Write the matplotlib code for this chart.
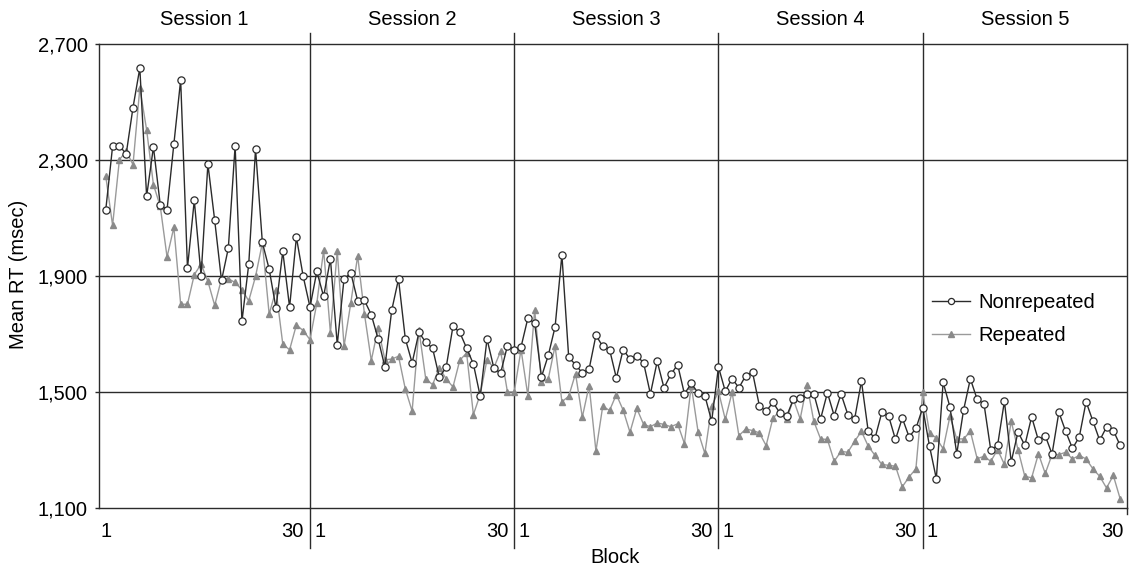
import numpy as np
import matplotlib
matplotlib.use("Agg")
import matplotlib.pyplot as plt

plt.rcParams['font.family'] = ['Liberation Sans', 'DejaVu Sans']

# mean RT per block, 5 sessions x 30 blocks
nonrepeated = [
    2128, 2346, 2348, 2320, 2480, 2616, 2174, 2344, 2145, 2128, 2354, 2575, 1927, 2160, 1901,
    2285, 2091, 1884, 1995, 2348, 1743, 1940, 2337, 2015, 1923, 1789, 1984, 1792, 2033, 1898,
    1792, 1915, 1829, 1958, 1663, 1890, 1909, 1814, 1815, 1766, 1683, 1586, 1781, 1889, 1683,
    1600, 1705, 1671, 1651, 1550, 1585, 1726, 1705, 1651, 1596, 1485, 1682, 1583, 1565, 1659,
    1646, 1655, 1754, 1737, 1552, 1626, 1724, 1972, 1619, 1594, 1565, 1579, 1695, 1657, 1646,
    1548, 1646, 1613, 1625, 1600, 1493, 1605, 1514, 1560, 1594, 1493, 1529, 1497, 1487, 1399,
    1586, 1502, 1546, 1514, 1556, 1568, 1453, 1433, 1464, 1428, 1416, 1474, 1479, 1494, 1494,
    1407, 1497, 1418, 1493, 1422, 1407, 1537, 1364, 1341, 1430, 1416, 1336, 1410, 1345, 1374,
    1445, 1313, 1201, 1533, 1448, 1287, 1437, 1545, 1474, 1459, 1299, 1316, 1468, 1259, 1362,
    1316, 1414, 1333, 1349, 1286, 1430, 1364, 1305, 1345, 1466, 1399, 1333, 1379, 1367, 1316,
]
repeated = [
    2243, 2074, 2300, 2330, 2283, 2547, 2403, 2214, 2140, 1965, 2067, 1802, 1802, 1904, 1940,
    1881, 1798, 1890, 1890, 1877, 1852, 1814, 1898, 2013, 1768, 1852, 1665, 1645, 1731, 1711,
    1680, 1806, 1989, 1703, 1987, 1657, 1808, 1969, 1768, 1608, 1720, 1611, 1613, 1623, 1510,
    1434, 1714, 1545, 1525, 1583, 1545, 1517, 1609, 1634, 1422, 1491, 1611, 1583, 1640, 1500,
    1500, 1646, 1487, 1783, 1533, 1545, 1659, 1466, 1485, 1563, 1413, 1522, 1296, 1451, 1436,
    1491, 1437, 1361, 1443, 1388, 1380, 1393, 1388, 1380, 1390, 1322, 1522, 1363, 1288, 1450,
    1502, 1405, 1499, 1349, 1372, 1367, 1359, 1315, 1410, 1433, 1405, 1474, 1407, 1525, 1399,
    1338, 1336, 1261, 1295, 1292, 1330, 1364, 1313, 1281, 1250, 1247, 1244, 1173, 1207, 1235,
    1499, 1359, 1341, 1304, 1416, 1338, 1338, 1364, 1270, 1278, 1261, 1301, 1250, 1399, 1301,
    1209, 1204, 1287, 1219, 1284, 1284, 1292, 1269, 1281, 1269, 1235, 1209, 1169, 1212, 1132,
]
sessions = ["Session 1", "Session 2", "Session 3", "Session 4", "Session 5"]
blocks_per_session = 30
y_ticks = [1100, 1500, 1900, 2300, 2700]

n = len(nonrepeated)
x = np.arange(n)
FS = 14.5
dark = "#2b2b2b"

fig = plt.figure(figsize=(11.35, 5.70), dpi=100)
ax = fig.add_axes([0.0872, 0.1088, 0.9057, 0.8146])

ax.plot(x, repeated, color="#9a9a9a", lw=1.0, marker="^", ms=4.5,
        mfc="#8a8a8a", mec="#8a8a8a", label="Repeated", zorder=3)
ax.plot(x, nonrepeated, color=dark, lw=1.0, marker="o", ms=5.2,
        mfc="white", mec=dark, mew=0.9, label="Nonrepeated", zorder=4)

ax.set_xlim(-1, 150)
ax.set_ylim(1100, 2700)
ax.set_yticks(y_ticks)
ax.set_yticklabels([f"{v:,}" for v in y_ticks], fontsize=FS)
ax.tick_params(axis="y", direction="out", length=3, width=1, color=dark, pad=5)
ax.tick_params(axis="x", length=0, labelbottom=False)
for s in ax.spines.values():
    s.set_color(dark)
    s.set_linewidth(1.0)
for v in y_ticks[1:-1]:
    ax.axhline(v, color=dark, lw=1.0, zorder=1)

# session separators, labels and block numbers
xt = ax.get_xaxis_transform()
for k in range(1, len(sessions)):
    b = k * blocks_per_session
    ax.plot([b, b], [-0.086, 1.023], transform=xt, color=dark, lw=1.0,
            clip_on=False, zorder=2)
    ax.annotate("30", xy=(b, 0), xycoords=xt, xytext=(-6, -24),
                textcoords="offset pixels", ha="right", va="center", fontsize=FS)
    ax.annotate("1", xy=(b, 0), xycoords=xt, xytext=(4, -24),
                textcoords="offset pixels", ha="left", va="center", fontsize=FS)
ax.plot([150, 150], [-0.014, 0], transform=xt, color=dark, lw=1.0, clip_on=False)
ax.annotate("1", xy=(0, 0), xycoords=xt, xytext=(0, -24),
            textcoords="offset pixels", ha="center", va="center", fontsize=FS)
ax.annotate("30", xy=(n - 1, 0), xycoords=xt, xytext=(3, -24),
            textcoords="offset pixels", ha="right", va="center", fontsize=FS)

bounds = [-1, 30, 60, 90, 120, 150]
for i, name in enumerate(sessions):
    ax.text((bounds[i] + bounds[i + 1]) / 2, 1.051, name, transform=xt,
            ha="center", va="center", fontsize=FS)

fig.text(0.0159, 0.518, "Mean RT (msec)", rotation=90, ha="center", va="center", fontsize=FS)
fig.text(0.5419, 0.0228, "Block", ha="center", va="center", fontsize=FS)

handles, labels = ax.get_legend_handles_labels()
ax.legend(handles[::-1], labels[::-1], loc="center left", bbox_to_anchor=(0.810, 0.407),
          frameon=False, fontsize=FS, handlelength=1.9, handletextpad=0.4,
          labelspacing=0.7, borderpad=0, borderaxespad=0, numpoints=1, markerscale=0.85)

fig.savefig("out.png", dpi=100)
